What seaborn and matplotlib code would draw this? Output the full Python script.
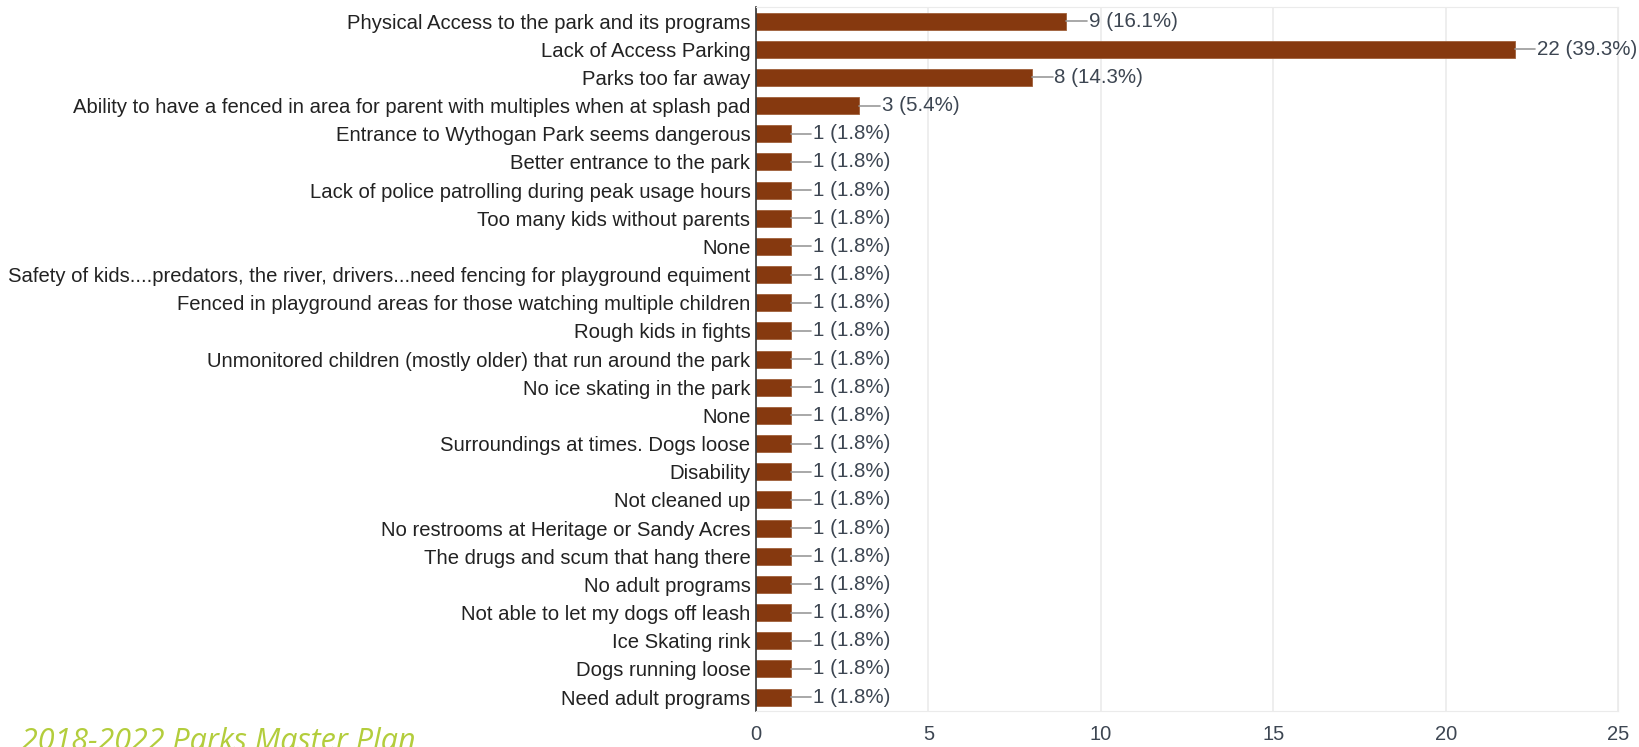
import matplotlib
matplotlib.use("Agg")
import matplotlib.pyplot as plt
import seaborn as sns
import pandas as pd

# data
labels = [
    "Physical Access to the park and its programs",
    "Lack of Access Parking",
    "Parks too far away",
    "Ability to have a fenced in area for parent with multiples when at splash pad",
    "Entrance to Wythogan Park seems dangerous",
    "Better entrance to the park",
    "Lack of police patrolling during peak usage hours",
    "Too many kids without parents",
    "None",
    "Safety of kids....predators, the river, drivers...need fencing for playground equiment",
    "Fenced in playground areas for those watching multiple children",
    "Rough kids in fights",
    "Unmonitored children (mostly older) that run around the park",
    "No ice skating in the park",
    "None",
    "Surroundings at times. Dogs loose",
    "Disability",
    "Not cleaned up",
    "No restrooms at Heritage or Sandy Acres",
    "The drugs and scum that hang there",
    "No adult programs",
    "Not able to let my dogs off leash",
    "Ice Skating rink",
    "Dogs running loose",
    "Need adult programs",
]
counts = [9, 22, 8, 3] + [1] * 21
percents = ["16.1%", "39.3%", "14.3%", "5.4%"] + ["1.8%"] * 21
xticks = [0, 5, 10, 15, 20, 25]

df = pd.DataFrame({"pos": range(len(labels)), "count": counts})

sns.set_style("white")
plt.rcParams["font.family"] = ["Liberation Sans", "DejaVu Sans"]

fig = plt.figure(figsize=(16.4, 7.47), dpi=100)
ax = fig.add_axes([0.461, 0.048, 0.5256, 0.9426])

sns.barplot(data=df, x="count", y="pos", orient="h", color="#86390F",
            width=0.6, saturation=1, ax=ax, edgecolor="#a0603a", linewidth=0.6)

# leader lines + value labels
for i, (c, p) in enumerate(zip(counts, percents)):
    ax.plot([c, c + 0.6], [i, i], color="#999999", lw=1.2, zorder=3)
    ax.text(c + 0.65, i, f"{c} ({p})", va="center", ha="left",
            fontsize=14.8, color="#3d4652")

ax.set_xlim(0, 25)
ax.set_ylim(len(labels) - 0.5, -0.5)
ax.set_xticks(xticks)
ax.set_xticklabels([str(t) for t in xticks], fontsize=14.5, color="#3d4652")
ax.set_yticks(range(len(labels)))
ax.set_yticklabels(labels, fontsize=14.6, color="#222222")
ax.tick_params(axis="x", length=0, pad=10)
ax.tick_params(axis="y", length=0, pad=4)
ax.set_xlabel("")
ax.set_ylabel("")
ax.xaxis.grid(True, color="#ebebeb", lw=1.2)
ax.set_axisbelow(True)
for s in ["top", "right", "bottom"]:
    ax.spines[s].set_color("#ebebeb")
ax.spines["left"].set_color("#333333")
ax.spines["left"].set_linewidth(1.2)

fig.text(0.013, -0.014, "2018-2022 Parks Master Plan", fontsize=22,
         style="italic", color="#b3cd3c", family=["Open Sans", "DejaVu Sans"],
         ha="left", va="bottom")

fig.savefig("out.png", dpi=100)
